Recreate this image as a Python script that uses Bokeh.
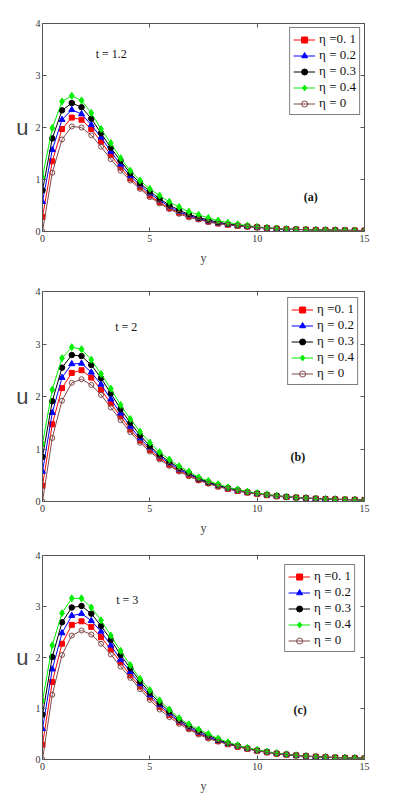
from bokeh.plotting import figure
from bokeh.layouts import column
from bokeh.models import Range1d, FixedTicker, LinearAxis, Label, CustomLabelingPolicy
from bokeh.embed import file_html
from bokeh.resources import INLINE

# ---------------- data ----------------
y_vals = [0.0, 0.455, 0.909, 1.364, 1.818, 2.273, 2.727, 3.182, 3.636, 4.091,
          4.545, 5.0, 5.455, 5.909, 6.364, 6.818, 7.273, 7.727, 8.182, 8.636,
          9.091, 9.545, 10.0, 10.455, 10.909, 11.364, 11.818, 12.273, 12.727,
          13.182, 13.636, 14.091, 14.545, 15.0]

eta_labels = ["\u03b7 =0. 1", "\u03b7 = 0.2", "\u03b7 = 0.3", "\u03b7 = 0.4", "\u03b7 = 0"]
panel_times = ["t = 1.2", "t = 2", "t = 3"]
panel_tags = ["(a)", "(b)", "(c)"]
x_ticks = [0, 5, 10, 15]
u_ticks = [0, 1, 2, 3, 4]

# panel (a), t = 1.2
u_a_eta01 = [0.28, 1.35, 1.97, 2.19, 2.15, 1.97, 1.73, 1.47, 1.23, 1.02, 0.85, 0.69, 0.56, 0.45, 0.36, 0.29, 0.24,
             0.19, 0.155, 0.13, 0.11, 0.095, 0.08, 0.065, 0.055, 0.045, 0.04, 0.035, 0.03, 0.027, 0.024, 0.022, 0.02, 0.018]
u_a_eta02 = [0.57, 1.57, 2.15, 2.34, 2.26, 2.05, 1.81, 1.54, 1.29, 1.07, 0.89, 0.73, 0.60, 0.48, 0.38, 0.31, 0.25,
             0.20, 0.16, 0.135, 0.115, 0.10, 0.08, 0.065, 0.055, 0.045, 0.04, 0.035, 0.03, 0.027, 0.024, 0.022, 0.02, 0.018]
u_a_eta03 = [0.79, 1.79, 2.33, 2.47, 2.39, 2.17, 1.89, 1.61, 1.36, 1.12, 0.93, 0.77, 0.63, 0.51, 0.41, 0.33, 0.27,
             0.22, 0.18, 0.145, 0.12, 0.10, 0.085, 0.07, 0.055, 0.045, 0.04, 0.035, 0.03, 0.027, 0.024, 0.022, 0.02, 0.018]
u_a_eta04 = [1.05, 1.99, 2.50, 2.61, 2.52, 2.28, 1.97, 1.70, 1.41, 1.17, 0.98, 0.82, 0.69, 0.57, 0.47, 0.38, 0.32,
             0.26, 0.21, 0.17, 0.14, 0.115, 0.09, 0.07, 0.06, 0.05, 0.04, 0.035, 0.03, 0.027, 0.024, 0.022, 0.02, 0.018]
u_a_eta00 = [0.0, 1.13, 1.77, 2.02, 2.00, 1.85, 1.63, 1.39, 1.17, 0.98, 0.82, 0.66, 0.54, 0.43, 0.34, 0.27, 0.23,
             0.18, 0.15, 0.13, 0.11, 0.095, 0.08, 0.065, 0.055, 0.045, 0.04, 0.035, 0.03, 0.027, 0.024, 0.022, 0.02, 0.018]

# panel (b), t = 2
u_b_eta01 = [0.30, 1.47, 2.16, 2.45, 2.50, 2.36, 2.13, 1.87, 1.62, 1.37, 1.16, 0.98, 0.83, 0.70, 0.59, 0.50, 0.41,
             0.35, 0.29, 0.24, 0.20, 0.17, 0.145, 0.12, 0.10, 0.085, 0.075, 0.065, 0.055, 0.048, 0.042, 0.037, 0.033, 0.03]
u_b_eta02 = [0.57, 1.69, 2.36, 2.62, 2.63, 2.46, 2.23, 1.95, 1.68, 1.43, 1.20, 1.02, 0.86, 0.73, 0.61, 0.52, 0.43,
             0.36, 0.30, 0.25, 0.21, 0.175, 0.15, 0.125, 0.105, 0.09, 0.075, 0.065, 0.055, 0.048, 0.042, 0.037, 0.033, 0.03]
u_b_eta03 = [0.85, 1.91, 2.55, 2.79, 2.77, 2.60, 2.35, 2.06, 1.76, 1.50, 1.26, 1.06, 0.89, 0.76, 0.64, 0.54, 0.44,
             0.37, 0.31, 0.26, 0.22, 0.18, 0.155, 0.13, 0.11, 0.09, 0.075, 0.065, 0.055, 0.048, 0.042, 0.037, 0.033, 0.03]
u_b_eta04 = [1.10, 2.13, 2.73, 2.94, 2.90, 2.70, 2.43, 2.15, 1.84, 1.57, 1.33, 1.12, 0.94, 0.80, 0.67, 0.57, 0.46,
             0.39, 0.33, 0.27, 0.23, 0.19, 0.16, 0.135, 0.11, 0.09, 0.075, 0.065, 0.055, 0.048, 0.042, 0.037, 0.033, 0.03]
u_b_eta00 = [0.0, 1.21, 1.92, 2.26, 2.33, 2.22, 2.03, 1.79, 1.55, 1.32, 1.12, 0.95, 0.80, 0.68, 0.57, 0.48, 0.40,
             0.34, 0.28, 0.24, 0.20, 0.17, 0.145, 0.12, 0.10, 0.085, 0.075, 0.065, 0.055, 0.048, 0.042, 0.037, 0.033, 0.03]

# panel (c), t = 3
u_c_eta01 = [0.29, 1.52, 2.27, 2.64, 2.71, 2.60, 2.40, 2.16, 1.90, 1.65, 1.43, 1.22, 1.03, 0.87, 0.73, 0.61, 0.51,
             0.43, 0.36, 0.30, 0.25, 0.21, 0.17, 0.14, 0.115, 0.095, 0.08, 0.066, 0.055, 0.046, 0.038, 0.032, 0.027, 0.023]
u_c_eta02 = [0.60, 1.77, 2.48, 2.82, 2.86, 2.72, 2.51, 2.24, 1.96, 1.72, 1.48, 1.26, 1.07, 0.90, 0.75, 0.63, 0.53,
             0.44, 0.37, 0.31, 0.26, 0.215, 0.175, 0.145, 0.12, 0.10, 0.08, 0.066, 0.055, 0.046, 0.038, 0.032, 0.027, 0.023]
u_c_eta03 = [0.88, 2.01, 2.69, 2.98, 3.01, 2.86, 2.62, 2.35, 2.05, 1.79, 1.53, 1.31, 1.11, 0.94, 0.78, 0.66, 0.56,
             0.47, 0.39, 0.32, 0.27, 0.22, 0.18, 0.15, 0.12, 0.10, 0.082, 0.066, 0.055, 0.046, 0.038, 0.032, 0.027, 0.023]
u_c_eta04 = [1.15, 2.24, 2.87, 3.16, 3.16, 2.98, 2.73, 2.43, 2.13, 1.85, 1.58, 1.36, 1.16, 0.98, 0.81, 0.69, 0.59,
             0.50, 0.41, 0.34, 0.28, 0.23, 0.19, 0.155, 0.125, 0.10, 0.082, 0.066, 0.055, 0.046, 0.038, 0.032, 0.027, 0.023]
u_c_eta00 = [0.0, 1.27, 2.05, 2.43, 2.53, 2.45, 2.27, 2.06, 1.82, 1.60, 1.38, 1.17, 0.98, 0.83, 0.70, 0.59, 0.49,
             0.41, 0.35, 0.30, 0.25, 0.21, 0.17, 0.14, 0.115, 0.095, 0.08, 0.066, 0.055, 0.046, 0.038, 0.032, 0.027, 0.023]

panels_data = [
    [u_a_eta01, u_a_eta02, u_a_eta03, u_a_eta04, u_a_eta00],
    [u_b_eta01, u_b_eta02, u_b_eta03, u_b_eta04, u_b_eta00],
    [u_c_eta01, u_c_eta02, u_c_eta03, u_c_eta04, u_c_eta00],
]

# ---------------- styles ----------------
colors = ["#ff0000", "#0000ff", "#000000", "#00f000", "#804848"]
markers = ["square", "triangle", "circle", "diamond", "circle"]
sizes = [5, 6, 5.5, 7, 5]
fills = ["#ff0000", "#0000ff", "#000000", "#00f000", None]

SERIF = "Liberation Serif"
SANS = "Liberation Sans"
AX = "#555555"

layouts = [
    dict(height=276, bt=23, bb=45, br=21, margin=4, tpos=(3.2, 3.42), tagpos=(12.5, 0.66)),
    dict(height=264, bt=15, bb=39, br=16, margin=6, tpos=(3.9, 3.33), tagpos=(11.9, 0.85)),
    dict(height=255, bt=15, bb=30, br=16, margin=9, tpos=(3.95, 3.12), tagpos=(12.0, 0.97)),
]

no_labels = CustomLabelingPolicy(code="""
const all = [...indices];
for (const i of all) indices.unset(i);
return indices;
""")


def make_panel(k):
    lay = layouts[k]
    p = figure(width=385, height=lay["height"], output_backend="svg", toolbar_location=None,
               x_range=Range1d(0, 15), y_range=Range1d(0, 4),
               min_border_left=42, min_border_right=lay["br"], min_border_top=lay["bt"],
               min_border_bottom=lay["bb"])
    p.grid.visible = False
    p.outline_line_color = AX
    p.outline_line_width = 1

    for ax in (p.xaxis[0], p.yaxis[0]):
        ax.major_tick_in = 4
        ax.major_tick_out = 0
        ax.minor_tick_in = 0
        ax.minor_tick_out = 0
        ax.axis_line_color = AX
        ax.major_tick_line_color = AX
        ax.major_label_text_font = SERIF
        ax.major_label_text_font_size = "10px"
        ax.major_label_text_color = "#333333"
        ax.major_label_standoff = 3
    p.xaxis.ticker = FixedTicker(ticks=x_ticks)
    p.yaxis.ticker = FixedTicker(ticks=u_ticks)
    p.xaxis.axis_label = "y"
    p.xaxis.axis_label_text_font = SERIF
    p.xaxis.axis_label_text_font_size = "12px"
    p.xaxis.axis_label_text_font_style = "normal"
    p.xaxis.axis_label_standoff = 6
    p.yaxis.axis_label = "u"
    p.yaxis.axis_label_orientation = "horizontal"
    p.yaxis.axis_label_text_font = SANS
    p.yaxis.axis_label_text_font_size = "22px"
    p.yaxis.axis_label_text_font_style = "normal"
    p.yaxis.axis_label_standoff = 4
    p.yaxis.major_label_standoff = 2

    # mirrored tick marks on top and right (no labels)
    for side, ticks in (("above", x_ticks), ("right", u_ticks)):
        ax = LinearAxis(ticker=FixedTicker(ticks=ticks), major_tick_in=4, major_tick_out=0,
                        minor_tick_in=0, minor_tick_out=0, axis_line_color=AX,
                        major_tick_line_color=AX, major_label_policy=no_labels,
                        major_label_standoff=0)
        p.add_layout(ax, side)

    for j in range(5):
        yv = panels_data[k][j]
        p.line(y_vals, yv, line_color=colors[j], line_width=1, legend_label=eta_labels[j])
        p.scatter(y_vals, yv, marker=markers[j], size=sizes[j], line_color=colors[j],
                  fill_color=fills[j], line_width=1, legend_label=eta_labels[j])

    lg = p.legend[0]
    lg.location = "top_right"
    lg.margin = lay["margin"]
    lg.padding = 3
    lg.spacing = 0
    lg.label_height = 15
    lg.glyph_height = 15
    lg.glyph_width = 22
    lg.label_standoff = 4
    lg.label_text_font = SERIF
    lg.label_text_font_size = "13px"
    lg.label_text_color = "#111111"
    lg.border_line_color = "#000000"
    lg.border_line_width = 1
    lg.background_fill_alpha = 1.0

    tx, ty = lay["tpos"]
    p.add_layout(Label(x=tx, y=ty, text=panel_times[k], text_font=SERIF, text_font_size="12px",
                       text_color="#111111", text_align="center", text_baseline="middle"))
    gx, gy = lay["tagpos"]
    p.add_layout(Label(x=gx, y=gy, text=panel_tags[k], text_font=SERIF, text_font_size="12px",
                       text_font_style="bold", text_color="#111111", text_align="center",
                       text_baseline="middle"))
    return p


layout = column(*[make_panel(k) for k in range(3)], spacing=0)
open("out.html", "w").write(file_html(layout, INLINE))
